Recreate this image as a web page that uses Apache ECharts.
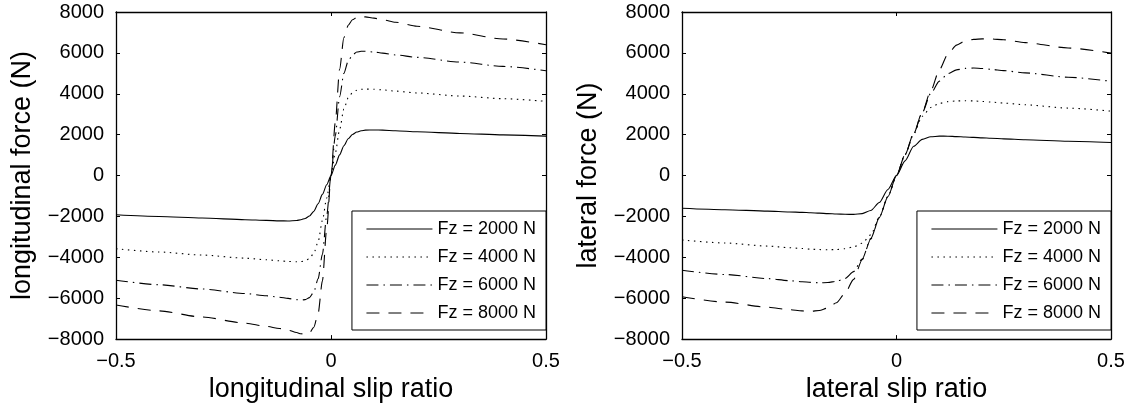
<!DOCTYPE html>
<html>
<head>
<meta charset="utf-8">
<script src="https://cdn.jsdelivr.net/npm/echarts@6/dist/echarts.min.js"></script>
<style>html,body{margin:0;padding:0;background:#fff}#c{width:1138px;height:408px}</style>
</head>
<body>
<div id="c"></div>
<script>
// ---- data ----
const seriesNames = ['Fz = 2000 N', 'Fz = 4000 N', 'Fz = 6000 N', 'Fz = 8000 N'];
const xTicks = [-0.5, 0, 0.5];
const yTicks = [-8000, -6000, -4000, -2000, 0, 2000, 4000, 6000, 8000];

const lonX = [-0.5,-0.4,-0.3,-0.2,-0.15,-0.12,-0.1,-0.08,-0.07,-0.06,-0.05,-0.04,-0.03,-0.02,-0.01,0,0.01,0.02,0.03,0.04,0.05,0.06,0.07,0.08,0.1,0.12,0.15,0.2,0.3,0.4,0.5];
const lonF2 = [-1920,-2000,-2080,-2160,-2195,-2215,-2220,-2200,-2160,-2100,-1980,-1750,-1380,-920,-450,0,510,1010,1460,1800,2010,2130,2190,2220,2230,2220,2190,2140,2060,1990,1930];
const lonF4 = [-3580,-3740,-3890,-4040,-4120,-4170,-4200,-4220,-4210,-4170,-4060,-3800,-3250,-2200,-1100,0,1100,2250,3250,3800,4050,4170,4220,4230,4220,4190,4130,4040,3890,3760,3630];
const lonF6 = [-5120,-5340,-5550,-5770,-5880,-5950,-6010,-6070,-6090,-6070,-5970,-5700,-5050,-3850,-1950,0,1950,3850,5000,5600,5900,6040,6080,6080,6040,5990,5900,5780,5550,5340,5130];
const lonF8 = [-6330,-6620,-6920,-7220,-7380,-7480,-7560,-7680,-7740,-7760,-7700,-7420,-6750,-5150,-2600,0,2600,5200,6750,7350,7620,7730,7770,7760,7700,7620,7500,7300,6980,6680,6400];

const latX = [-0.5,-0.4,-0.3,-0.25,-0.22,-0.2,-0.18,-0.16,-0.14,-0.12,-0.1,-0.08,-0.06,-0.04,-0.02,0,0.02,0.04,0.06,0.08,0.1,0.12,0.14,0.16,0.18,0.2,0.22,0.25,0.3,0.4,0.5];
const latF2 = [-1600,-1670,-1740,-1780,-1800,-1820,-1840,-1860,-1880,-1895,-1900,-1860,-1710,-1320,-680,0,720,1430,1770,1895,1930,1925,1905,1885,1865,1845,1825,1795,1750,1680,1615];
const latF4 = [-3150,-3300,-3450,-3530,-3570,-3600,-3620,-3630,-3620,-3580,-3490,-3310,-2900,-2030,-1020,0,1020,2030,2900,3330,3530,3615,3650,3660,3650,3625,3595,3545,3460,3300,3150];
const latF6 = [-4630,-4840,-5040,-5140,-5195,-5225,-5245,-5235,-5170,-5030,-4700,-4080,-3080,-2050,-1030,0,1030,2050,3080,4020,4620,4990,5170,5240,5260,5235,5200,5130,5020,4810,4610];
const latF8 = [-5930,-6190,-6440,-6560,-6620,-6640,-6600,-6480,-6220,-5760,-5080,-4120,-3100,-2060,-1030,0,1030,2060,3100,4150,5180,5950,6380,6580,6660,6685,6685,6640,6500,6240,5990];

// ---- styles ----
const FONT = '"Liberation Sans", Arial, Helvetica, sans-serif';
const lineTypes = ['solid', [1.5, 4.5], [12, 5, 1.5, 5], [13, 9]];
const minus = v => String(v).replace('-', '\u2212');

function zip(xs, ys) { return xs.map((x, i) => [x, ys[i]]); }

function xAxisPair(gi, name) {
  const base = {
    gridIndex: gi, type: 'value', min: xTicks[0], max: xTicks[xTicks.length - 1], interval: 0.5,
    axisLine: { show: true, onZero: false, lineStyle: { color: '#000', width: 1.3 } },
    axisTick: { show: true, inside: true, length: 4, lineStyle: { color: '#000', width: 1 } },
    splitLine: { show: false }
  };
  return [
    Object.assign({}, base, {
      position: 'bottom', name: name, nameLocation: 'middle', nameGap: 26,
      nameTextStyle: { fontFamily: FONT, fontSize: 27, color: '#000' },
      axisLabel: { show: true, margin: 12, fontFamily: FONT, fontSize: 20, color: '#000', formatter: minus, showMinLabel: true, showMaxLabel: true }
    }),
    Object.assign({}, base, { position: 'top', axisLabel: { show: false } })
  ];
}
function yAxisPair(gi, name) {
  const base = {
    gridIndex: gi, type: 'value', min: yTicks[0], max: yTicks[yTicks.length - 1], interval: 2000,
    axisLine: { show: true, onZero: false, lineStyle: { color: '#000', width: 1.3 } },
    axisTick: { show: true, inside: true, length: 4, lineStyle: { color: '#000', width: 1 } },
    splitLine: { show: false }
  };
  return [
    Object.assign({}, base, {
      position: 'left', name: name, nameLocation: 'middle', nameGap: 80,
      nameTextStyle: { fontFamily: FONT, fontSize: 27, color: '#000' },
      axisLabel: { show: true, margin: 12, fontFamily: FONT, fontSize: 20, color: '#000', formatter: minus, showMinLabel: true, showMaxLabel: true }
    }),
    Object.assign({}, base, { position: 'right', axisLabel: { show: false } })
  ];
}

function makeSeries(xs, ysList, axisIdx) {
  return ysList.map((ys, i) => ({
    name: seriesNames[i], type: 'line', xAxisIndex: axisIdx, yAxisIndex: axisIdx,
    data: zip(xs, ys), symbol: 'none', smooth: 0.25, smoothMonotone: 'x',
    lineStyle: { color: '#000', width: 1.1, type: lineTypes[i] },
    itemStyle: { color: '#000' }, silent: true
  }));
}

function legendFor(rightPx) {
  return {
    data: seriesNames, orient: 'vertical', right: rightPx, top: 211,
    itemWidth: 66, itemHeight: 18, itemGap: 10,
    padding: [9, 10, 8, 14], borderColor: '#000', borderWidth: 1, backgroundColor: '#fff',
    textStyle: { fontFamily: FONT, fontSize: 18, color: '#000' },
    itemStyle: { opacity: 0 }, lineStyle: { width: 1, color: '#000' }, selectedMode: false
  };
}

const chart = echarts.init(document.getElementById('c'), null, { renderer: 'canvas' });
chart.setOption({
  animation: false,
  backgroundColor: '#fff',
  grid: [
    { left: 116, right: 592, top: 12, bottom: 67 },
    { left: 682, right: 27, top: 12, bottom: 67 }
  ],
  xAxis: [...xAxisPair(0, 'longitudinal slip ratio'), ...xAxisPair(1, 'lateral slip ratio')],
  yAxis: [...yAxisPair(0, 'longitudinal force (N)'), ...yAxisPair(1, 'lateral force (N)')],
  legend: [legendFor(592), legendFor(27)],
  series: [
    ...makeSeries(lonX, [lonF2, lonF4, lonF6, lonF8], 0),
    ...makeSeries(latX, [latF2, latF4, latF6, latF8], 2)
  ]
});
</script>
</body>
</html>
